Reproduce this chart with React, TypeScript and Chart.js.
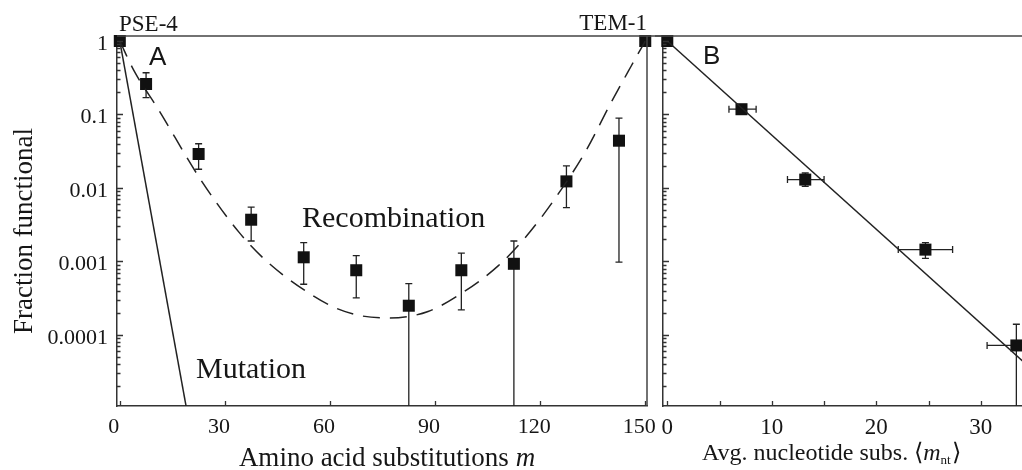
import React, { useEffect, useRef } from "react";
import { Chart, registerables } from "chart.js";

Chart.register(...registerables);

// ---------- Panel A data ----------
const recombM = [0, 7.5, 22.5, 37.5, 52.5, 67.5, 82.5, 97.5, 112.5, 127.5, 142.5, 150];
const recombFrac = [1, 0.26, 0.029, 0.0037, 0.00114, 0.00076, 0.00025, 0.00076, 0.00093, 0.0123, 0.044, 1];
const recombLow = [1, 0.17, 0.018, 0.0019, 0.00049, 0.00032, 0, 0.00022, 0, 0.0054, 0.00098, 1];
const recombHigh = [1, 0.37, 0.04, 0.0055, 0.0018, 0.0012, 0.0005, 0.0013, 0.0019, 0.02, 0.089, 1];

const fitM = [0, 4, 11, 23, 34, 42, 53, 61, 69, 77, 88, 98, 108, 116, 124, 133, 140, 146, 150];
const fitFrac = [1, 0.398, 0.1175, 0.01318, 0.00251, 0.001, 0.000398, 0.00024, 0.000182, 0.00017, 0.000209, 0.00038, 0.00087, 0.00219, 0.00692, 0.0316, 0.138, 0.457, 1];

const mutM = [0, 20];
const mutFrac = [1, 5.6e-6];

const xTicksA = [0, 30, 60, 90, 120, 150];
const yTickVals = [0.0001, 0.001, 0.01, 0.1, 1];
const yTickLabels = ["0.0001", "0.001", "0.01", "0.1", "1"];

// ---------- Panel B data ----------
const ntSubs = [0, 7.1, 13.2, 24.7, 33.4];
const ntFrac = [1, 0.118, 0.013, 0.00145, 7.2e-5];
const ntXLow = [0, 5.9, 11.5, 22.1, 30.6];
const ntXHigh = [0, 8.5, 15.0, 27.3, 36.2];
const ntYLow = [1, 0.118, 0.0105, 0.0011, 0];
const ntYHigh = [1, 0.118, 0.016, 0.0018, 0.00014];

const ntFitX = [0, 34];
const ntFitY = [1, 4.4e-5];

const xTicksBLabels = [0, 10, 20, 30];
const xTicksBMarks = [0, 5, 10, 15, 20, 25, 30];

const SERIF = '"Liberation Serif", "Times New Roman", serif';
const SANS = '"Liberation Sans", Arial, sans-serif';
const INK = "#161616";
const AXIS = "#333";

function drawLogTicks(ctx: CanvasRenderingContext2D, yScale: any, x: number) {
  ctx.beginPath();
  for (let e = -6; e <= 1; e++) {
    for (let k = 1; k <= 9; k++) {
      const v = k * Math.pow(10, e);
      if (v < yScale.min || v > yScale.max) continue;
      const y = Math.round(yScale.getPixelForValue(v)) + 0.5;
      const len = k === 1 ? 6 : 3.5;
      ctx.moveTo(x, y);
      ctx.lineTo(x + len, y);
    }
  }
  ctx.stroke();
}

function drawXTicks(ctx: CanvasRenderingContext2D, xScale: any, vals: number[], bottom: number) {
  ctx.beginPath();
  vals.forEach((v) => {
    const x = Math.round(xScale.getPixelForValue(v)) + 0.5;
    ctx.moveTo(x, bottom);
    ctx.lineTo(x, bottom - 5);
  });
  ctx.stroke();
}

const baseScaleX = (min: number, max: number, ticks: number[], size: number, labelOffset: number) => ({
  type: "linear" as const,
  min,
  max,
  afterBuildTicks: (s: any) => {
    s.ticks = ticks.map((v) => ({ value: v }));
  },
  afterFit: (s: any) => {
    s.height = 64;
    s.paddingLeft = 0;
    s.paddingRight = 0;
  },
  grid: { display: false, drawTicks: false },
  border: { display: true, color: AXIS, width: 1.5 },
  ticks: {
    autoSkip: false,
    maxRotation: 0,
    padding: 8,
    labelOffset,
    color: INK,
    font: { family: SERIF, size },
  },
});

const baseScaleY = (width: number, showLabels: boolean) => ({
  type: "logarithmic" as const,
  min: 1.08e-5,
  max: 1.17,
  afterBuildTicks: (s: any) => {
    s.ticks = yTickVals.map((v) => ({ value: v }));
  },
  afterFit: (s: any) => {
    s.width = width;
    s.paddingTop = 0;
    s.paddingBottom = 0;
  },
  grid: { display: false, drawTicks: false },
  border: { display: true, color: AXIS, width: 1.5 },
  ticks: {
    display: showLabels,
    autoSkip: false,
    padding: 9,
    labelOffset: 3,
    color: INK,
    font: { family: SERIF, size: 22 },
    callback: (_v: any, i: number) => yTickLabels[i],
  },
});

export default function App() {
  const refA = useRef<HTMLCanvasElement>(null);
  const refB = useRef<HTMLCanvasElement>(null);

  useEffect(() => {
    const pluginA = {
      id: "panelA",
      beforeDatasetsDraw(chart: any) {
        const { ctx, chartArea, scales } = chart;
        const x = scales.x, y = scales.y;
        ctx.save();
        ctx.strokeStyle = "#222";
        ctx.lineWidth = 1.3;
        recombM.forEach((m, i) => {
          const hi = recombHigh[i], lo = recombLow[i];
          if (hi === lo) return;
          const px = x.getPixelForValue(m);
          const yHi = y.getPixelForValue(hi);
          const yLo = lo > 0 ? y.getPixelForValue(lo) : chartArea.bottom;
          ctx.beginPath();
          ctx.moveTo(px, yHi);
          ctx.lineTo(px, yLo);
          ctx.moveTo(px - 3.5, yHi);
          ctx.lineTo(px + 3.5, yHi);
          if (lo > 0) {
            ctx.moveTo(px - 3.5, yLo);
            ctx.lineTo(px + 3.5, yLo);
          }
          ctx.stroke();
        });
        ctx.restore();
      },
      afterDraw(chart: any) {
        const { ctx, chartArea, scales } = chart;
        const x = scales.x, y = scales.y;
        ctx.save();
        ctx.strokeStyle = AXIS;
        ctx.lineWidth = 1.3;
        drawLogTicks(ctx, y, chartArea.left);
        drawXTicks(ctx, x, xTicksA, chartArea.bottom);
        ctx.lineWidth = 1.5;
        ctx.strokeStyle = "#444";
        ctx.beginPath();
        ctx.moveTo(chartArea.left, chartArea.top);
        ctx.lineTo(chart.width, chartArea.top);
        ctx.moveTo(chartArea.right, chartArea.top);
        ctx.lineTo(chartArea.right, chartArea.bottom);
        ctx.stroke();

        ctx.fillStyle = INK;
        ctx.textBaseline = "alphabetic";
        ctx.font = `23px ${SERIF}`;
        ctx.textAlign = "left";
        ctx.fillText("PSE-4", 119, 31);
        ctx.textAlign = "right";
        ctx.fillText("TEM-1", chartArea.right, 30);
        ctx.textAlign = "left";
        ctx.font = `26px ${SANS}`;
        ctx.fillText("A", 149, 65);
        ctx.font = `30px ${SERIF}`;
        ctx.fillText("Recombination", 302, 227);
        ctx.font = `30px ${SERIF}`;
        ctx.fillText("Mutation", 196, 378);

        const t1 = "Amino acid substitutions ";
        const fs = 27;
        ctx.font = `${fs}px ${SERIF}`;
        const w1 = ctx.measureText(t1).width;
        ctx.font = `italic ${fs}px ${SERIF}`;
        const w2 = ctx.measureText("m").width;
        const sx = 387 - (w1 + w2) / 2;
        ctx.font = `${fs}px ${SERIF}`;
        ctx.fillText(t1, sx, 466);
        ctx.font = `italic ${fs}px ${SERIF}`;
        ctx.fillText("m", sx + w1, 466);

        ctx.save();
        ctx.translate(32, 231);
        ctx.rotate(-Math.PI / 2);
        ctx.textAlign = "center";
        ctx.font = `27px ${SERIF}`;
        ctx.fillText("Fraction functional", 0, 0);
        ctx.restore();
        ctx.restore();
      },
    };

    const pluginB = {
      id: "panelB",
      beforeDatasetsDraw(chart: any) {
        const { ctx, chartArea, scales } = chart;
        const x = scales.x, y = scales.y;
        ctx.save();
        ctx.strokeStyle = "#222";
        ctx.lineWidth = 1.3;
        ntSubs.forEach((s, i) => {
          const px = x.getPixelForValue(s);
          const py = y.getPixelForValue(ntFrac[i]);
          ctx.beginPath();
          if (ntYHigh[i] !== ntYLow[i]) {
            const yHi = y.getPixelForValue(ntYHigh[i]);
            const yLo = ntYLow[i] > 0 ? y.getPixelForValue(ntYLow[i]) : chartArea.bottom;
            ctx.moveTo(px, yHi);
            ctx.lineTo(px, yLo);
            ctx.moveTo(px - 3.5, yHi);
            ctx.lineTo(px + 3.5, yHi);
            if (ntYLow[i] > 0) {
              ctx.moveTo(px - 3.5, yLo);
              ctx.lineTo(px + 3.5, yLo);
            }
          }
          if (ntXHigh[i] !== ntXLow[i]) {
            const xLo = x.getPixelForValue(ntXLow[i]);
            const xHi = x.getPixelForValue(ntXHigh[i]);
            ctx.moveTo(xLo, py);
            ctx.lineTo(xHi, py);
            ctx.moveTo(xLo, py - 3.5);
            ctx.lineTo(xLo, py + 3.5);
            ctx.moveTo(xHi, py - 3.5);
            ctx.lineTo(xHi, py + 3.5);
          }
          ctx.stroke();
        });
        ctx.restore();
      },
      afterDraw(chart: any) {
        const { ctx, chartArea, scales } = chart;
        const x = scales.x, y = scales.y;
        ctx.save();
        ctx.strokeStyle = AXIS;
        ctx.lineWidth = 1.3;
        drawLogTicks(ctx, y, chartArea.left);
        drawXTicks(ctx, x, xTicksBMarks, chartArea.bottom);
        ctx.lineWidth = 1.5;
        ctx.strokeStyle = "#444";
        ctx.beginPath();
        ctx.moveTo(0, chartArea.top);
        ctx.lineTo(chart.width, chartArea.top);
        ctx.stroke();

        ctx.fillStyle = INK;
        ctx.textBaseline = "alphabetic";
        ctx.textAlign = "left";
        ctx.font = `26px ${SANS}`;
        ctx.fillText("B", 48, 64);

        let cx = 47;
        const base = 460;
        ctx.font = `24px ${SERIF}`;
        const p1 = "Avg. nucleotide subs. \u27E8";
        ctx.fillText(p1, cx, base);
        cx += ctx.measureText(p1).width;
        ctx.font = `italic 24px ${SERIF}`;
        ctx.fillText("m", cx, base);
        cx += ctx.measureText("m").width;
        ctx.font = `13px ${SERIF}`;
        ctx.fillText("nt", cx, base + 4);
        cx += ctx.measureText("nt").width;
        ctx.font = `24px ${SERIF}`;
        ctx.fillText("\u27E9", cx + 1, base);
        ctx.restore();
      },
    };

    const a = new Chart(refA.current!, {
      type: "scatter",
      data: {
        datasets: [
          {
            label: "Recombination fit",
            data: fitM.map((m, i) => ({ x: m, y: fitFrac[i] })),
            showLine: true,
            cubicInterpolationMode: "monotone",
            borderColor: "#222",
            borderWidth: 1.5,
            borderDash: [17, 10],
            pointRadius: 0,
            fill: false,
          },
          {
            label: "Mutation",
            data: mutM.map((m, i) => ({ x: m, y: mutFrac[i] })),
            showLine: true,
            borderColor: "#222",
            borderWidth: 1.5,
            pointRadius: 0,
            fill: false,
          },
          {
            label: "Recombination data",
            data: recombM.map((m, i) => ({ x: m, y: recombFrac[i] })),
            showLine: false,
            pointStyle: "rect",
            pointRadius: 8.5,
            backgroundColor: "#111",
            borderColor: "#111",
            borderWidth: 0,
            clip: false,
          },
        ],
      } as any,
      options: {
        animation: false,
        responsive: false,
        maintainAspectRatio: false,
        layout: { autoPadding: false, padding: { top: 36, right: 16, left: 0, bottom: 0 } },
        plugins: { legend: { display: false }, tooltip: { enabled: false } },
        scales: {
          x: baseScaleX(-0.8, 150.5, xTicksA, 22, -6),
          y: baseScaleY(117, true),
        },
      } as any,
      plugins: [pluginA],
    });

    const b = new Chart(refB.current!, {
      type: "scatter",
      data: {
        datasets: [
          {
            label: "Fit",
            data: ntFitX.map((v, i) => ({ x: v, y: ntFitY[i] })),
            showLine: true,
            borderColor: "#222",
            borderWidth: 1.5,
            pointRadius: 0,
            fill: false,
          },
          {
            label: "Data",
            data: ntSubs.map((v, i) => ({ x: v, y: ntFrac[i] })),
            showLine: false,
            pointStyle: "rect",
            pointRadius: 8.5,
            backgroundColor: "#111",
            borderColor: "#111",
            borderWidth: 0,
            clip: false,
          },
        ],
      } as any,
      options: {
        animation: false,
        responsive: false,
        maintainAspectRatio: false,
        layout: { autoPadding: false, padding: { top: 36, right: 0, left: 0, bottom: 0 } },
        plugins: { legend: { display: false }, tooltip: { enabled: false } },
        scales: {
          x: baseScaleX(-0.41, 33.94, xTicksBLabels, 23, 0),
          y: baseScaleY(8, false),
        },
      } as any,
      plugins: [pluginB],
    });

    return () => {
      a.destroy();
      b.destroy();
    };
  }, []);

  return (
    <div style={{ position: "fixed", left: 0, top: 0, width: 1022, height: 470, background: "#fff", overflow: "hidden" }}>
      <canvas ref={refA} width={663} height={470} style={{ position: "absolute", left: 0, top: 0, width: 663, height: 470 }} />
      <canvas ref={refB} width={367} height={470} style={{ position: "absolute", left: 655, top: 0, width: 367, height: 470 }} />
    </div>
  );
}
